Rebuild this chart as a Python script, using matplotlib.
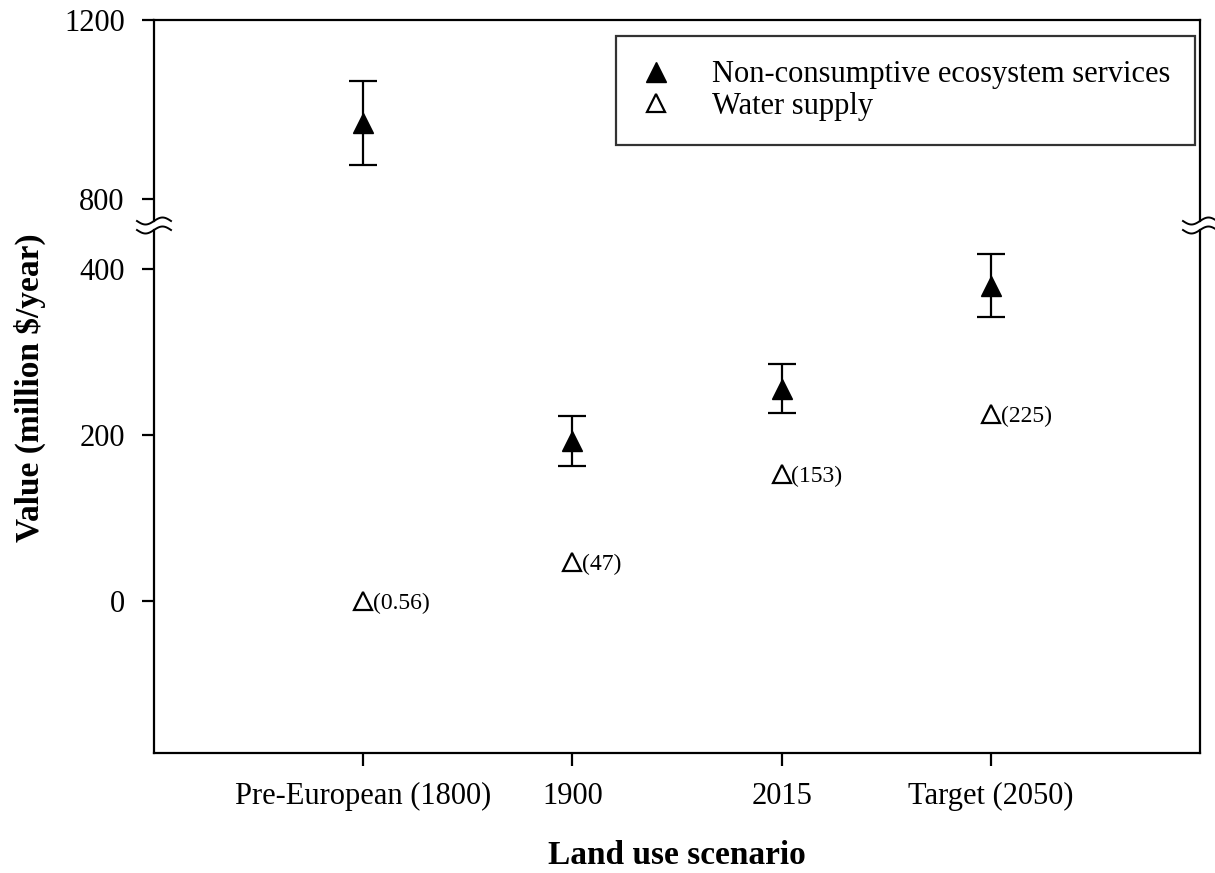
import numpy as np
import matplotlib
matplotlib.use("Agg")
import matplotlib.pyplot as plt
from matplotlib.lines import Line2D

plt.rcParams["font.family"] = ["Liberation Serif", "DejaVu Serif"]

# Land use scenarios and estimated annual values (million $/year)
scenarios = ["Pre-European (1800)", "1900", "2015", "Target (2050)"]
ecosystem_value = [970, 193, 256, 380]
ecosystem_err = [94, 30, 30, 38]
water_supply = [0.56, 47, 153, 225]
water_labels = ["(0.56)", "(47)", "(153)", "(225)"]

W, H = 1215, 873
fig = plt.figure(figsize=(W / 100, H / 100), dpi=100)

left, right = 154 / W, 1200 / W
top_y0, top_y1 = 20, 221      # upper panel pixel span
bot_y0, bot_y1 = 230, 753     # lower panel pixel span

ax_top = fig.add_axes([left, 1 - top_y1 / H, right - left, (top_y1 - top_y0) / H])
ax_bot = fig.add_axes([left, 1 - bot_y1 / H, right - left, (bot_y1 - bot_y0) / H])

x = np.arange(1, len(scenarios) + 1)
err_style = dict(fmt="^", color="black", markersize=14, capsize=10,
                 elinewidth=1.6, capthick=1.6, zorder=3)
open_style = dict(linestyle="none", marker="^", markersize=13,
                  markerfacecolor="white", markeredgecolor="black",
                  markeredgewidth=1.6, zorder=3)

for ax in (ax_top, ax_bot):
    eb = ax.errorbar(x, ecosystem_value, yerr=ecosystem_err, **err_style)
    ws, = ax.plot(x, water_supply, **open_style)
    ax.set_xlim(0, 5)
    for side in ("left", "right", "top", "bottom"):
        ax.spines[side].set_linewidth(1.6)
    ax.tick_params(axis="y", direction="out", length=9, width=1.6,
                   labelsize=22, pad=12)
    ax.tick_params(axis="x", direction="out", length=9, width=1.6,
                   labelsize=22, pad=12)

# value annotations next to the water supply markers
for xi, yi, lab in zip(x, water_supply, water_labels):
    ax_bot.annotate(lab, (xi, yi), xytext=(7, 0), textcoords="offset points",
                    ha="left", va="center_baseline", fontsize=17)

ax_top.set_ylim(751, 1200)
ax_top.set_yticks([800, 1200])
ax_top.spines["bottom"].set_visible(False)
ax_top.tick_params(axis="x", bottom=False, labelbottom=False)

ax_bot.set_ylim(-183, 447)
ax_bot.set_yticks([0, 200, 400])
ax_bot.spines["top"].set_visible(False)
ax_bot.set_xticks(x)
ax_bot.set_xticklabels(scenarios)

# wavy break marks on both vertical spines
t = np.linspace(0, 1, 60)
for px in (154, 1200):
    for py in (221, 230):
        xs = (px - 17 + 34 * t) / W
        ys = 1 - (py - 3.5 * np.sin(2 * np.pi * t + np.pi)) / H
        fig.add_artist(Line2D(xs, ys, color="black", lw=1.4,
                              transform=fig.transFigure))

leg = ax_top.legend([eb[0], ws], ["Non-consumptive ecosystem services", "Water supply"],
                    loc="upper right", bbox_to_anchor=(1195 / W, 1 - 36 / H),
                    bbox_transform=fig.transFigure, fontsize=22, frameon=True,
                    fancybox=False, borderaxespad=0, borderpad=0.8,
                    handlelength=1.0, handletextpad=1.35, labelspacing=0.08)
leg.get_frame().set_edgecolor("black")
leg.get_frame().set_linewidth(1.6)

fig.text(677 / W, 1 - 855 / H, "Land use scenario", ha="center", va="center",
         fontsize=24, fontweight="bold")
fig.text(30 / W, 1 - 388 / H, "Value (million $/year)", ha="center", va="center",
         rotation=90, fontsize=24, fontweight="bold")

fig.savefig("out.png", dpi=100)
